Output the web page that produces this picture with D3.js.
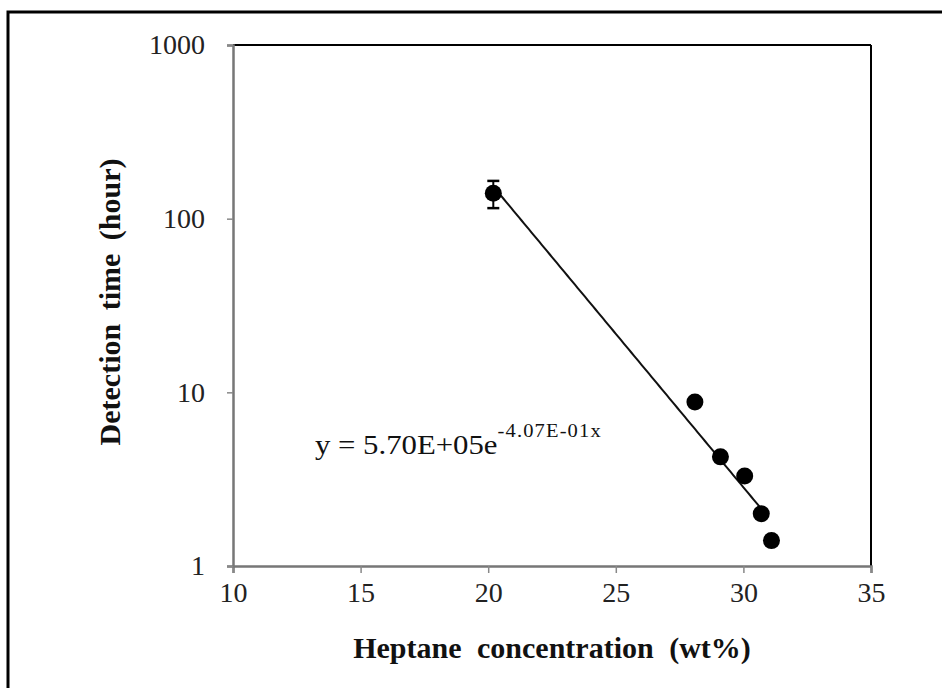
<!DOCTYPE html>
<html>
<head>
<meta charset="utf-8">
<script src="https://cdn.jsdelivr.net/npm/d3@7"></script>
<style>
  html, body { margin: 0; padding: 0; background: #fff; }
  svg { display: block; }
</style>
</head>
<body>
<svg id="chart" width="942" height="688"></svg>
<script>
// ---- data ----
const heptane = [20.2, 28.1, 29.1, 30.05, 30.7, 31.1];          // wt%
const detectionTime = [140, 8.8, 4.25, 3.3, 2.0, 1.4];           // hours
const errorBars = [25, 0, 0, 0, 0, 0];                           // +/- hours
const xTicks = [10, 15, 20, 25, 30, 35];
const yTicks = [1, 10, 100, 1000];
const trendCoef = [5.70e5, -0.407];                              // y = a * e^(b x)
const trendRange = [20.2, 30.7];
const xTitle = "Heptane concentration (wt%)";
const yTitle = "Detection time (hour)";

// ---- layout ----
const svg = d3.select("#chart");
const L = 233, R = 871, T = 45, B = 566;
const serif = "'Liberation Serif', 'Times New Roman', serif";

svg.append("rect").attr("x", 0).attr("y", 0).attr("width", 942).attr("height", 688).attr("fill", "#fff");
// outer frame
svg.append("rect").attr("x", 8).attr("y", 12).attr("width", 960).attr("height", 700)
  .attr("fill", "none").attr("stroke", "#000").attr("stroke-width", 3);

const x = d3.scaleLinear().domain([10, 35]).range([L, R]);
const y = d3.scaleLog().domain([1, 1000]).range([B, T]);

// top and right borders of plot area
svg.append("line").attr("x1", L).attr("x2", R).attr("y1", T).attr("y2", T).attr("stroke", "#000").attr("stroke-width", 2);
svg.append("line").attr("x1", R).attr("x2", R).attr("y1", T).attr("y2", B).attr("stroke", "#000").attr("stroke-width", 2);

// axes
const xAxis = svg.append("g").attr("transform", `translate(0,${B})`)
  .call(d3.axisBottom(x).tickValues(xTicks).tickSize(7).tickPadding(10).tickFormat(d3.format("d")));
const yAxis = svg.append("g").attr("transform", `translate(${L},0)`)
  .call(d3.axisLeft(y).tickValues(yTicks).tickSize(6).tickPadding(22).tickFormat(d3.format("d")));
[xAxis, yAxis].forEach(g => {
  g.select(".domain").attr("stroke", "#777").attr("stroke-width", 2.5);
  g.selectAll(".tick line").attr("stroke", "#888").attr("stroke-width", 1.5);
  g.selectAll(".tick text").attr("font-family", serif).attr("font-size", 28).attr("fill", "#222");
});
xAxis.selectAll(".tick text").attr("dy", "0.68em");

// trend line
const trendX = d3.range(trendRange[0], trendRange[1] + 0.001, 0.1);
const line = d3.line().x(d => x(d)).y(d => y(trendCoef[0] * Math.exp(trendCoef[1] * d)));
svg.append("path").datum(trendX).attr("d", line).attr("fill", "none").attr("stroke", "#111").attr("stroke-width", 2);

// error bars
const pts = heptane.map((h, i) => ({ x: h, y: detectionTime[i], e: errorBars[i] }));
const eb = svg.append("g").selectAll("g").data(pts.filter(d => d.e > 0)).join("g");
eb.append("line").attr("x1", d => x(d.x)).attr("x2", d => x(d.x))
  .attr("y1", d => y(d.y + d.e)).attr("y2", d => y(d.y - d.e)).attr("stroke", "#000").attr("stroke-width", 2);
eb.append("line").attr("x1", d => x(d.x) - 6).attr("x2", d => x(d.x) + 6)
  .attr("y1", d => y(d.y + d.e)).attr("y2", d => y(d.y + d.e)).attr("stroke", "#000").attr("stroke-width", 2.5);
eb.append("line").attr("x1", d => x(d.x) - 6).attr("x2", d => x(d.x) + 6)
  .attr("y1", d => y(d.y - d.e)).attr("y2", d => y(d.y - d.e)).attr("stroke", "#000").attr("stroke-width", 2.5);

// points
svg.append("g").selectAll("circle").data(pts).join("circle")
  .attr("cx", d => x(d.x)).attr("cy", d => y(d.y)).attr("r", 8.5).attr("fill", "#000");

// equation
const eq = svg.append("text").attr("transform", "translate(315,454) scale(1.14,1)")
  .attr("font-family", serif).attr("font-size", 27).attr("fill", "#111");
eq.append("tspan").text("y = 5.70E+05e");
eq.append("tspan").attr("font-size", 18).attr("letter-spacing", 1).attr("dy", -17).text("-4.07E-01x");

// axis titles
svg.append("text").attr("x", 552).attr("y", 658).attr("text-anchor", "middle").attr("word-spacing", 8)
  .attr("font-family", serif).attr("font-weight", "bold").attr("font-size", 30).attr("fill", "#111").text(xTitle);
svg.append("text").attr("transform", "translate(120,302) rotate(-90)").attr("text-anchor", "middle").attr("word-spacing", 6)
  .attr("font-family", serif).attr("font-weight", "bold").attr("font-size", 30).attr("fill", "#111").text(yTitle);
</script>
</body>
</html>
